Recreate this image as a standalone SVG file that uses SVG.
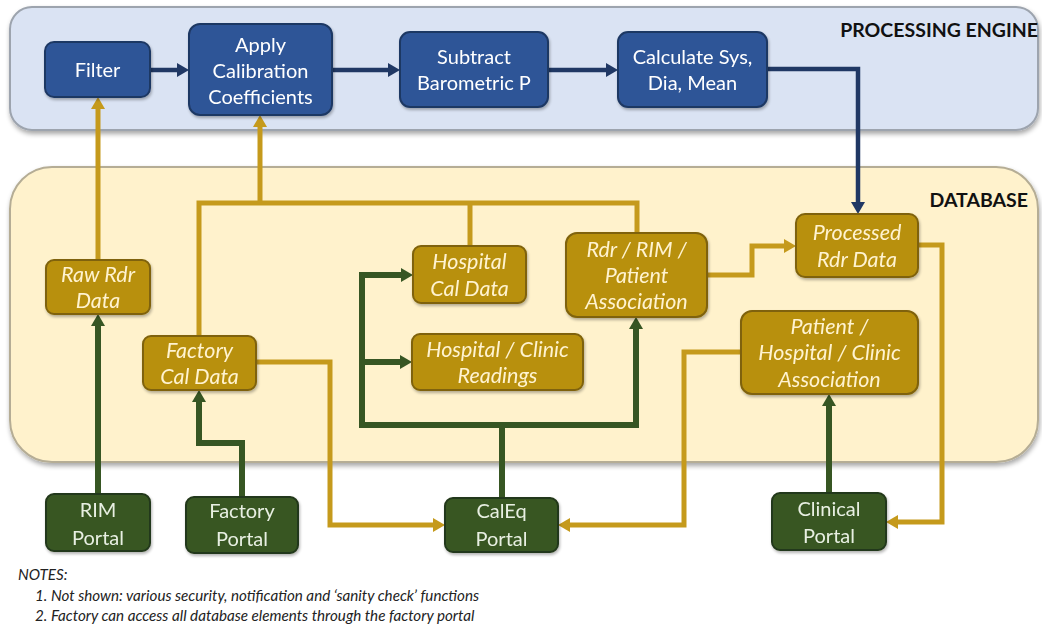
<svg xmlns="http://www.w3.org/2000/svg" width="1042" height="626" viewBox="0 0 1042 626">
  <style>
    .panel-eng { fill: #DAE3F3; stroke: #9DA4AE; stroke-width: 2; }
    .panel-db { fill: #FFF2CC; stroke: #B5AD95; stroke-width: 2; }
    .title { font-family: Lato, "Liberation Sans", sans-serif; font-weight: bold; font-size: 19.5px; fill: #111; }
    .blue rect { fill: #2F5597; stroke: #1F3864; stroke-width: 2; }
    .gold rect { fill: #B8900E; stroke: #7F6208; stroke-width: 2; }
    .green rect { fill: #385723; stroke: #23381A; stroke-width: 2; }
    .blue text, .green text { font-family: Lato, "Liberation Sans", sans-serif; font-size: 20px; fill: #FFFFFF; text-anchor: middle; }
    .green text { fill: #E8EFE2; }
    .gold text { font-family: Lato, "Liberation Sans", sans-serif; font-style: italic; font-size: 21.5px; fill: #FFF3D0; text-anchor: middle; }
    .c-gold { fill: none; stroke: #C59A1C; stroke-width: 5; }
    .c-green { fill: none; stroke: #375623; stroke-width: 6; }
    .c-blue { fill: none; stroke: #203864; stroke-width: 4.5; }
    .notes { font-family: Lato, "Liberation Sans", sans-serif; font-style: italic; font-size: 15.2px; fill: #222; }
  </style>
  <defs>
    <filter id="shadow" x="-5%" y="-10%" width="110%" height="125%">
      <feGaussianBlur in="SourceAlpha" stdDeviation="2.5"/>
      <feOffset dx="1" dy="3" result="b"/>
      <feComponentTransfer><feFuncA type="linear" slope="0.35"/></feComponentTransfer>
      <feMerge><feMergeNode/><feMergeNode in="SourceGraphic"/></feMerge>
    </filter>
    <filter id="nshadow" x="-10%" y="-10%" width="125%" height="130%">
      <feGaussianBlur in="SourceAlpha" stdDeviation="1.5"/>
      <feOffset dx="1" dy="2" result="b"/>
      <feComponentTransfer><feFuncA type="linear" slope="0.3"/></feComponentTransfer>
      <feMerge><feMergeNode/><feMergeNode in="SourceGraphic"/></feMerge>
    </filter>
    <marker id="ah-gold" viewBox="0 0 12 14" refX="6" refY="7" markerWidth="12" markerHeight="14" markerUnits="userSpaceOnUse" orient="auto">
      <path d="M0,0 L12,7 L0,14 z" fill="#C59A1C"/>
    </marker>
    <marker id="ah-green" viewBox="0 0 12 14" refX="6" refY="7" markerWidth="12" markerHeight="14" markerUnits="userSpaceOnUse" orient="auto">
      <path d="M0,0 L12,7 L0,14 z" fill="#375623"/>
    </marker>
    <marker id="ah-blue" viewBox="0 0 12 14" refX="6" refY="7" markerWidth="12" markerHeight="14" markerUnits="userSpaceOnUse" orient="auto">
      <path d="M0,0 L12,7 L0,14 z" fill="#203864"/>
    </marker>
  </defs>

  <rect width="1042" height="626" fill="#FFFFFF"/>

  <!-- Panels -->
  <g id="processing-engine">
    <rect class="panel-eng" x="10" y="7" width="1028" height="123" rx="22" filter="url(#shadow)"/>
    <text class="title" x="1038" y="37" text-anchor="end">PROCESSING ENGINE</text>
  </g>
  <g id="database">
    <rect class="panel-db" x="10" y="167" width="1028" height="295" rx="42" filter="url(#shadow)"/>
    <text class="title" x="1028" y="207" text-anchor="end">DATABASE</text>
  </g>

  <!-- Connectors -->
  <g id="connectors">
    <!-- processing chain -->
    <path class="c-blue" d="M150,70 H183" marker-end="url(#ah-blue)"/>
    <path class="c-blue" d="M332,70 H394" marker-end="url(#ah-blue)"/>
    <path class="c-blue" d="M548,70 H612" marker-end="url(#ah-blue)"/>
    <path class="c-blue" d="M767,69 H858 V208" marker-end="url(#ah-blue)"/>

    <!-- database to engine -->
    <path class="c-gold" d="M98,260 V103" marker-end="url(#ah-gold)"/>
    <path class="c-gold" d="M199,336 V203 H637 V233"/>
    <path class="c-gold" d="M470,203 V246"/>
    <path class="c-gold" d="M260,203 V121" marker-end="url(#ah-gold)"/>

    <!-- within database / to portals -->
    <path class="c-gold" d="M707,275 H752 V246 H790" marker-end="url(#ah-gold)"/>
    <path class="c-gold" d="M918,245 H942 V522 H892" marker-end="url(#ah-gold)"/>
    <path class="c-gold" d="M741,352 H684 V525 H564" marker-end="url(#ah-gold)"/>
    <path class="c-gold" d="M256,362 H330 V525 H439" marker-end="url(#ah-gold)"/>

    <!-- portals to database -->
    <path class="c-green" d="M98,494 V320" marker-end="url(#ah-green)"/>
    <path class="c-green" d="M242,497 V443 H199 V396" marker-end="url(#ah-green)"/>
    <path class="c-green" d="M502,498 V425"/>
    <path class="c-green" d="M362,425 H636 V323" marker-end="url(#ah-green)"/>
    <path class="c-green" d="M362,428 V275 H407" marker-end="url(#ah-green)"/>
    <path class="c-green" d="M362,362 H406" marker-end="url(#ah-green)"/>
    <path class="c-green" d="M829,493 V400" marker-end="url(#ah-green)"/>
  </g>

  <!-- Processing engine nodes -->
  <g id="filter" class="blue" filter="url(#nshadow)">
    <rect x="45" y="42" width="105" height="55" rx="9"/>
    <text x="97.5" y="77">Filter</text>
  </g>
  <g id="apply-calibration" class="blue" filter="url(#nshadow)">
    <rect x="189" y="24" width="143" height="91" rx="11"/>
    <text x="260.5" y="51.5">Apply</text>
    <text x="260.5" y="77.5">Calibration</text>
    <text x="260.5" y="103.5">Coefficients</text>
  </g>
  <g id="subtract-barometric" class="blue" filter="url(#nshadow)">
    <rect x="400" y="32" width="148" height="75" rx="10"/>
    <text x="474" y="64">Subtract</text>
    <text x="474" y="90">Barometric P</text>
  </g>
  <g id="calculate" class="blue" filter="url(#nshadow)">
    <rect x="618" y="32" width="149" height="75" rx="10"/>
    <text x="692.5" y="64">Calculate Sys,</text>
    <text x="692.5" y="90">Dia, Mean</text>
  </g>

  <!-- Database nodes -->
  <g id="raw-rdr-data" class="gold" filter="url(#nshadow)">
    <rect x="46" y="260" width="104" height="54" rx="8"/>
    <text x="98" y="282">Raw Rdr</text>
    <text x="98" y="308">Data</text>
  </g>
  <g id="factory-cal-data" class="gold" filter="url(#nshadow)">
    <rect x="143" y="336" width="113" height="54" rx="8"/>
    <text x="199.5" y="358">Factory</text>
    <text x="199.5" y="384">Cal Data</text>
  </g>
  <g id="hospital-cal-data" class="gold" filter="url(#nshadow)">
    <rect x="413" y="246" width="113" height="57" rx="8"/>
    <text x="469.5" y="269">Hospital</text>
    <text x="469.5" y="296">Cal Data</text>
  </g>
  <g id="hospital-clinic-readings" class="gold" filter="url(#nshadow)">
    <rect x="412" y="334" width="171" height="56" rx="8"/>
    <text x="497.5" y="357">Hospital  / Clinic</text>
    <text x="497.5" y="383">Readings</text>
  </g>
  <g id="rdr-rim-patient" class="gold" filter="url(#nshadow)">
    <rect x="566" y="233" width="141" height="84" rx="11"/>
    <text x="636.5" y="257">Rdr / RIM /</text>
    <text x="636.5" y="283">Patient</text>
    <text x="636.5" y="309">Association</text>
  </g>
  <g id="processed-rdr-data" class="gold" filter="url(#nshadow)">
    <rect x="796" y="214" width="122" height="63" rx="9"/>
    <text x="857" y="240">Processed</text>
    <text x="857" y="267">Rdr Data</text>
  </g>
  <g id="patient-hospital-clinic" class="gold" filter="url(#nshadow)">
    <rect x="741" y="311" width="177" height="83" rx="11"/>
    <text x="829.5" y="334">Patient /</text>
    <text x="829.5" y="360">Hospital / Clinic</text>
    <text x="829.5" y="387">Association</text>
  </g>

  <!-- Portals -->
  <g id="rim-portal" class="green" filter="url(#nshadow)">
    <rect x="46" y="494" width="104" height="57" rx="8"/>
    <text x="98" y="517">RIM</text>
    <text x="98" y="545">Portal</text>
  </g>
  <g id="factory-portal" class="green" filter="url(#nshadow)">
    <rect x="186" y="497" width="112" height="56" rx="8"/>
    <text x="242" y="518">Factory</text>
    <text x="242" y="546">Portal</text>
  </g>
  <g id="caleq-portal" class="green" filter="url(#nshadow)">
    <rect x="445" y="498" width="113" height="54" rx="8"/>
    <text x="501.5" y="518">CalEq</text>
    <text x="501.5" y="546">Portal</text>
  </g>
  <g id="clinical-portal" class="green" filter="url(#nshadow)">
    <rect x="772" y="493" width="114" height="57" rx="8"/>
    <text x="829" y="516">Clinical</text>
    <text x="829" y="543">Portal</text>
  </g>

  <!-- Notes -->
  <g id="notes">
    <text class="notes" x="18" y="580">NOTES:</text>
    <text class="notes" x="35" y="601">1.  Not shown: various security, notification and ‘sanity check’ functions</text>
    <text class="notes" x="35" y="621">2.  Factory can access all database elements through the factory portal</text>
  </g>
</svg>
